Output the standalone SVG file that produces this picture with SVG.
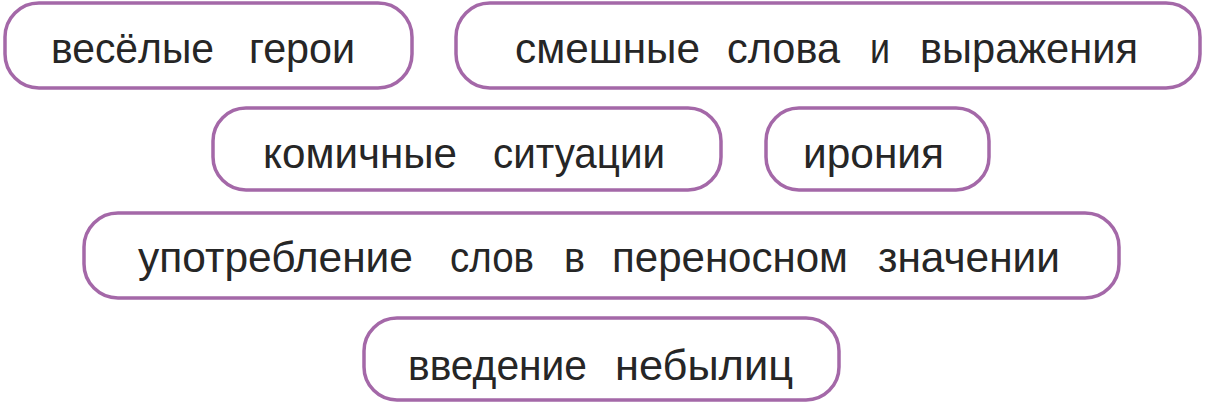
<svg xmlns="http://www.w3.org/2000/svg" width="1205" height="405" viewBox="0 0 1205 405">
<style>
.box{fill:#ffffff;stroke:#a468a8;stroke-width:3.5}
.t{font-family:"Liberation Sans",Arial,sans-serif;font-size:42px;fill:#262626}
</style>
<rect width="1205" height="405" fill="#ffffff"/>
<g id="node1"><rect class="box" x="5" y="3" width="407" height="85" rx="34"/>
<text class="t" y="63"><tspan x="51" textLength="163" lengthAdjust="spacingAndGlyphs">весёлые</tspan><tspan x="249" textLength="106" lengthAdjust="spacingAndGlyphs">герои</tspan></text></g>
<g id="node2"><rect class="box" x="456" y="3" width="744" height="85" rx="34"/>
<text class="t" y="63"><tspan x="515" textLength="185" lengthAdjust="spacingAndGlyphs">смешные</tspan><tspan x="727" textLength="113" lengthAdjust="spacingAndGlyphs">слова</tspan><tspan x="870" textLength="20" lengthAdjust="spacingAndGlyphs">и</tspan><tspan x="920" textLength="218" lengthAdjust="spacingAndGlyphs">выражения</tspan></text></g>
<g id="node3"><rect class="box" x="213" y="108" width="508" height="82" rx="33"/>
<text class="t" y="168"><tspan x="263" textLength="194" lengthAdjust="spacingAndGlyphs">комичные</tspan><tspan x="493" textLength="172" lengthAdjust="spacingAndGlyphs">ситуации</tspan></text></g>
<g id="node4"><rect class="box" x="766" y="108" width="223" height="82" rx="33"/>
<text class="t" y="168"><tspan x="803" textLength="141" lengthAdjust="spacingAndGlyphs">ирония</tspan></text></g>
<g id="node5"><rect class="box" x="84" y="213" width="1035" height="85" rx="34"/>
<text class="t" y="272"><tspan x="138" textLength="275" lengthAdjust="spacingAndGlyphs">употребление</tspan><tspan x="450" textLength="84" lengthAdjust="spacingAndGlyphs">слов</tspan><tspan x="564" textLength="21" lengthAdjust="spacingAndGlyphs">в</tspan><tspan x="612" textLength="236" lengthAdjust="spacingAndGlyphs">переносном</tspan><tspan x="878" textLength="182" lengthAdjust="spacingAndGlyphs">значении</tspan></text></g>
<g id="node6"><rect class="box" x="364" y="318" width="475" height="82" rx="33"/>
<text class="t" y="380"><tspan x="408" textLength="179" lengthAdjust="spacingAndGlyphs">введение</tspan><tspan x="615" textLength="178" lengthAdjust="spacingAndGlyphs">небылиц</tspan></text></g>
<g id="connectors"></g>
</svg>
